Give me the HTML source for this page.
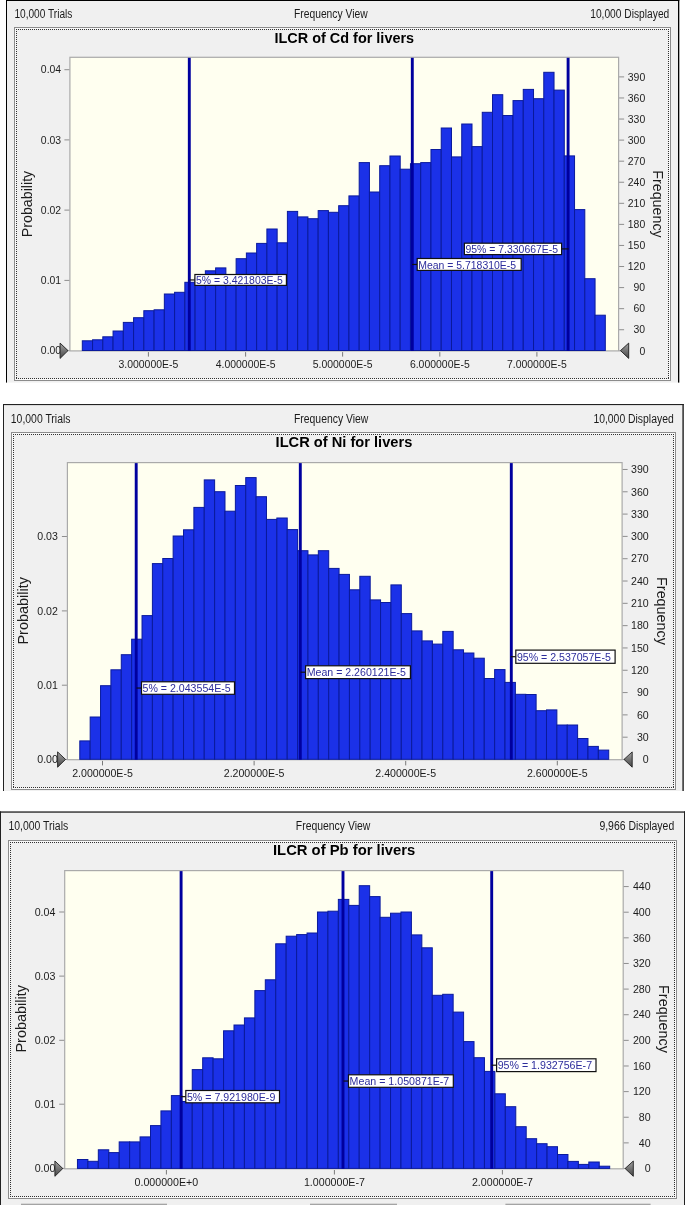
<!DOCTYPE html>
<html lang="en"><head><meta charset="utf-8"><title>ILCR frequency charts</title>
<style>
html,body{margin:0;padding:0;background:#fff;}
body{width:685px;height:1205px;overflow:hidden;position:relative;}
svg{display:block;position:absolute;left:0;top:0;}
text{font-family:"Liberation Sans", Arial, sans-serif;}
.s{fill:#1c1c1c;}
.t{font-weight:bold;fill:#000;}
.a{fill:#1c1c1c;}
.h{font-size:12px;fill:#1a1a1a;}
.l{fill:#2d2d9c;}
.bar{fill:#1b31e8;stroke:#0a1a9c;stroke-width:1;}
</style></head><body>
<svg width="685" height="1205" viewBox="0 0 685 1205">
<defs>
<linearGradient id="tg" x1="0" y1="0" x2="0" y2="1"><stop offset="0" stop-color="#a2a2a2"/><stop offset="1" stop-color="#454545"/></linearGradient>
</defs>
<rect x="0" y="0" width="685" height="1205" fill="#ffffff"/>
<g>
<rect x="6" y="0" width="673.3" height="382.6" fill="#f0f0f0"/>
<rect x="6" y="0" width="1" height="382.6" fill="#000"/>
<rect x="678" y="0" width="1.3" height="382.6" fill="#000"/>
<rect x="6" y="0" width="673.3" height="1" fill="#000"/>
<text class="h" x="14.4" y="18.4" textLength="58" lengthAdjust="spacingAndGlyphs">10,000 Trials</text>
<text class="h" x="294" y="17.9" textLength="73.6" lengthAdjust="spacingAndGlyphs">Frequency View</text>
<text class="h" x="590.2" y="18.2" textLength="79.1" lengthAdjust="spacingAndGlyphs">10,000 Displayed</text>
<rect x="14.5" y="27.5" width="656" height="353" fill="#f0f0f0" stroke="#8c8c8c" stroke-width="1"/>
<rect x="15.5" y="28.5" width="654" height="351" fill="none" stroke="#fafafa" stroke-width="1"/>
<g stroke="#303030" stroke-width="1" stroke-dasharray="1 1">
<line x1="16" y1="29.5" x2="669" y2="29.5"/>
<line x1="16" y1="378.5" x2="669" y2="378.5"/>
<line x1="16.5" y1="29" x2="16.5" y2="379"/>
<line x1="668.5" y1="29" x2="668.5" y2="379"/>
</g>
<text class="t" font-size="14.4" x="274.5" y="42.9" textLength="139.6" lengthAdjust="spacingAndGlyphs">ILCR of Cd for livers</text>
<rect x="69.9" y="57.3" width="548.7" height="293.6" fill="#fffff0" stroke="#aaaaaa" stroke-width="1.2"/>
<rect x="64.4" y="69.2" width="5" height="1" fill="#8e8e8e"/>
<text class="s" font-size="10.45" x="61.2" y="73.45" text-anchor="end">0.04</text>
<rect x="64.4" y="139.4" width="5" height="1" fill="#8e8e8e"/>
<text class="s" font-size="10.45" x="61.2" y="143.65" text-anchor="end">0.03</text>
<rect x="64.4" y="209.6" width="5" height="1" fill="#8e8e8e"/>
<text class="s" font-size="10.45" x="61.2" y="213.85" text-anchor="end">0.02</text>
<rect x="64.4" y="279.9" width="5" height="1" fill="#8e8e8e"/>
<text class="s" font-size="10.45" x="61.2" y="284.15" text-anchor="end">0.01</text>
<rect x="64.4" y="350.1" width="5" height="1" fill="#8e8e8e"/>
<text class="s" font-size="10.45" x="61.2" y="354.35" text-anchor="end">0.00</text>
<rect x="619.1" y="350.3" width="5" height="1" fill="#8e8e8e"/>
<text class="s" font-size="10.45" x="645.2" y="354.55" text-anchor="end">0</text>
<rect x="619.1" y="329.23" width="5" height="1" fill="#8e8e8e"/>
<text class="s" font-size="10.45" x="645.2" y="333.48" text-anchor="end">30</text>
<rect x="619.1" y="308.16" width="5" height="1" fill="#8e8e8e"/>
<text class="s" font-size="10.45" x="645.2" y="312.41" text-anchor="end">60</text>
<rect x="619.1" y="287.09" width="5" height="1" fill="#8e8e8e"/>
<text class="s" font-size="10.45" x="645.2" y="291.34" text-anchor="end">90</text>
<rect x="619.1" y="266.02" width="5" height="1" fill="#8e8e8e"/>
<text class="s" font-size="10.45" x="645.2" y="270.27" text-anchor="end">120</text>
<rect x="619.1" y="244.95" width="5" height="1" fill="#8e8e8e"/>
<text class="s" font-size="10.45" x="645.2" y="249.2" text-anchor="end">150</text>
<rect x="619.1" y="223.88" width="5" height="1" fill="#8e8e8e"/>
<text class="s" font-size="10.45" x="645.2" y="228.13" text-anchor="end">180</text>
<rect x="619.1" y="202.81" width="5" height="1" fill="#8e8e8e"/>
<text class="s" font-size="10.45" x="645.2" y="207.06" text-anchor="end">210</text>
<rect x="619.1" y="181.74" width="5" height="1" fill="#8e8e8e"/>
<text class="s" font-size="10.45" x="645.2" y="185.99" text-anchor="end">240</text>
<rect x="619.1" y="160.67" width="5" height="1" fill="#8e8e8e"/>
<text class="s" font-size="10.45" x="645.2" y="164.92" text-anchor="end">270</text>
<rect x="619.1" y="139.6" width="5" height="1" fill="#8e8e8e"/>
<text class="s" font-size="10.45" x="645.2" y="143.85" text-anchor="end">300</text>
<rect x="619.1" y="118.53" width="5" height="1" fill="#8e8e8e"/>
<text class="s" font-size="10.45" x="645.2" y="122.78" text-anchor="end">330</text>
<rect x="619.1" y="97.46" width="5" height="1" fill="#8e8e8e"/>
<text class="s" font-size="10.45" x="645.2" y="101.71" text-anchor="end">360</text>
<rect x="619.1" y="76.39" width="5" height="1" fill="#8e8e8e"/>
<text class="s" font-size="10.45" x="645.2" y="80.64" text-anchor="end">390</text>
<rect x="147.9" y="352.1" width="1" height="4.5" fill="#7a7a7a"/>
<text class="s" font-size="10.45" x="148.4" y="367.7" text-anchor="middle">3.000000E-5</text>
<rect x="245.1" y="352.1" width="1" height="4.5" fill="#7a7a7a"/>
<text class="s" font-size="10.45" x="245.6" y="367.7" text-anchor="middle">4.000000E-5</text>
<rect x="342.1" y="352.1" width="1" height="4.5" fill="#7a7a7a"/>
<text class="s" font-size="10.45" x="342.6" y="367.7" text-anchor="middle">5.000000E-5</text>
<rect x="439.3" y="352.1" width="1" height="4.5" fill="#7a7a7a"/>
<text class="s" font-size="10.45" x="439.8" y="367.7" text-anchor="middle">6.000000E-5</text>
<rect x="536.4" y="352.1" width="1" height="4.5" fill="#7a7a7a"/>
<text class="s" font-size="10.45" x="536.9" y="367.7" text-anchor="middle">7.000000E-5</text>
<text class="a" font-size="14.3" transform="translate(31.6 204) rotate(-90)" text-anchor="middle" textLength="66.5" lengthAdjust="spacingAndGlyphs">Probability</text>
<text class="a" font-size="14.3" transform="translate(652.6 204) rotate(90)" text-anchor="middle" textLength="67.5" lengthAdjust="spacingAndGlyphs">Frequency</text>
<g class="bar">
<rect x="82.3" y="340.8" width="10.26" height="9.7"/>
<rect x="92.55" y="339.8" width="10.26" height="10.7"/>
<rect x="102.81" y="336.8" width="10.26" height="13.7"/>
<rect x="113.06" y="331" width="10.26" height="19.5"/>
<rect x="123.32" y="322.4" width="10.26" height="28.1"/>
<rect x="133.57" y="317.7" width="10.26" height="32.8"/>
<rect x="143.83" y="310.7" width="10.26" height="39.8"/>
<rect x="154.09" y="309.8" width="10.26" height="40.7"/>
<rect x="164.34" y="294" width="10.26" height="56.5"/>
<rect x="174.59" y="292.3" width="10.26" height="58.2"/>
<rect x="184.85" y="282.3" width="10.26" height="68.2"/>
<rect x="195.11" y="278" width="10.26" height="72.5"/>
<rect x="205.36" y="270.8" width="10.26" height="79.7"/>
<rect x="215.62" y="267.9" width="10.26" height="82.6"/>
<rect x="225.87" y="276.5" width="10.26" height="74"/>
<rect x="236.12" y="258.7" width="10.26" height="91.8"/>
<rect x="246.38" y="253" width="10.26" height="97.5"/>
<rect x="256.63" y="243.4" width="10.26" height="107.1"/>
<rect x="266.89" y="229" width="10.26" height="121.5"/>
<rect x="277.15" y="242.8" width="10.26" height="107.7"/>
<rect x="287.4" y="211.4" width="10.26" height="139.1"/>
<rect x="297.66" y="216.9" width="10.26" height="133.6"/>
<rect x="307.91" y="218.7" width="10.26" height="131.8"/>
<rect x="318.17" y="210.6" width="10.26" height="139.9"/>
<rect x="328.42" y="212.3" width="10.26" height="138.2"/>
<rect x="338.68" y="205.7" width="10.26" height="144.8"/>
<rect x="348.93" y="195.9" width="10.26" height="154.6"/>
<rect x="359.19" y="162.6" width="10.26" height="187.9"/>
<rect x="369.44" y="192" width="10.26" height="158.5"/>
<rect x="379.7" y="165.7" width="10.26" height="184.8"/>
<rect x="389.95" y="156" width="10.26" height="194.5"/>
<rect x="400.21" y="169.2" width="10.26" height="181.3"/>
<rect x="410.46" y="163.7" width="10.26" height="186.8"/>
<rect x="420.72" y="162.6" width="10.26" height="187.9"/>
<rect x="430.97" y="149.5" width="10.26" height="201"/>
<rect x="441.23" y="128" width="10.26" height="222.5"/>
<rect x="451.48" y="156.9" width="10.26" height="193.6"/>
<rect x="461.74" y="124" width="10.26" height="226.5"/>
<rect x="471.99" y="146.6" width="10.26" height="203.9"/>
<rect x="482.25" y="112.3" width="10.26" height="238.2"/>
<rect x="492.5" y="94.7" width="10.26" height="255.8"/>
<rect x="502.76" y="115.5" width="10.26" height="235"/>
<rect x="513.01" y="100.6" width="10.26" height="249.9"/>
<rect x="523.26" y="89.4" width="10.26" height="261.1"/>
<rect x="533.52" y="98.7" width="10.26" height="251.8"/>
<rect x="543.77" y="72.3" width="10.26" height="278.2"/>
<rect x="554.03" y="90.1" width="10.26" height="260.4"/>
<rect x="564.28" y="155.9" width="10.26" height="194.6"/>
<rect x="574.54" y="209.6" width="10.26" height="140.9"/>
<rect x="584.8" y="278.7" width="10.26" height="71.8"/>
<rect x="595.05" y="315.2" width="10.26" height="35.3"/>
</g>
<rect x="187.85" y="57.8" width="2.9" height="293.1" fill="#00009e"/>
<rect x="410.85" y="57.8" width="2.9" height="293.1" fill="#00009e"/>
<rect x="566.65" y="57.8" width="2.9" height="293.1" fill="#00009e"/>
<rect x="189.8" y="279.35" width="5" height="1.2" fill="#111"/>
<rect x="194.9" y="274.5" width="91.5" height="10.9" fill="#ffffff" stroke="#111" stroke-width="1.2"/>
<text class="l" font-size="10.45" x="196" y="284.05">5% = 3.421803E-5</text>
<rect x="412.1" y="263.85" width="5" height="1.2" fill="#111"/>
<rect x="417.2" y="258.5" width="103.95" height="11.9" fill="#ffffff" stroke="#111" stroke-width="1.2"/>
<text class="l" font-size="10.45" x="418.3" y="268.55">Mean = 5.718310E-5</text>
<rect x="561.7" y="248.3" width="7" height="1.2" fill="#111"/>
<rect x="464.4" y="243.2" width="97.2" height="11.4" fill="#ffffff" stroke="#111" stroke-width="1.2"/>
<text class="l" font-size="10.45" x="465.5" y="253">95% = 7.330667E-5</text>
<path d="M60.1 343.1 L68 350.6 L60.1 358.4 Z" fill="url(#tg)" stroke="#1e1e1e" stroke-width="0.9" stroke-linejoin="round"/>
<path d="M628.7 343.1 L620.5 350.6 L628.7 358.4 Z" fill="url(#tg)" stroke="#1e1e1e" stroke-width="0.9" stroke-linejoin="round"/>
</g>
<g>
<rect x="3" y="404" width="680.8" height="387" fill="#f0f0f0"/>
<rect x="3" y="404" width="1" height="387" fill="#222"/>
<rect x="682.4" y="404" width="1.4" height="387" fill="#222"/>
<rect x="3" y="404" width="680.8" height="1.1" fill="#222"/>
<text class="h" x="10.8" y="422.8" textLength="59.7" lengthAdjust="spacingAndGlyphs">10,000 Trials</text>
<text class="h" x="294" y="422.7" textLength="74.3" lengthAdjust="spacingAndGlyphs">Frequency View</text>
<text class="h" x="593.4" y="422.8" textLength="80.3" lengthAdjust="spacingAndGlyphs">10,000 Displayed</text>
<rect x="11.5" y="432.5" width="664" height="357" fill="#f0f0f0" stroke="#8c8c8c" stroke-width="1"/>
<rect x="12.5" y="433.5" width="662" height="355" fill="none" stroke="#fafafa" stroke-width="1"/>
<g stroke="#303030" stroke-width="1" stroke-dasharray="1 1">
<line x1="13" y1="434.5" x2="674" y2="434.5"/>
<line x1="13" y1="787.5" x2="674" y2="787.5"/>
<line x1="13.5" y1="434" x2="13.5" y2="788"/>
<line x1="673.5" y1="434" x2="673.5" y2="788"/>
</g>
<text class="t" font-size="14.6" x="275.6" y="447.3" textLength="136.7" lengthAdjust="spacingAndGlyphs">ILCR of Ni for livers</text>
<rect x="67.4" y="462.6" width="554.7" height="297.1" fill="#fffff0" stroke="#aaaaaa" stroke-width="1.2"/>
<rect x="61.9" y="536" width="5" height="1" fill="#8e8e8e"/>
<text class="s" font-size="10.6" x="57.9" y="540.25" text-anchor="end">0.03</text>
<rect x="61.9" y="610.4" width="5" height="1" fill="#8e8e8e"/>
<text class="s" font-size="10.6" x="57.9" y="614.65" text-anchor="end">0.02</text>
<rect x="61.9" y="684.7" width="5" height="1" fill="#8e8e8e"/>
<text class="s" font-size="10.6" x="57.9" y="688.95" text-anchor="end">0.01</text>
<rect x="61.9" y="759" width="5" height="1" fill="#8e8e8e"/>
<text class="s" font-size="10.6" x="57.9" y="763.25" text-anchor="end">0.00</text>
<rect x="622.6" y="759" width="5" height="1" fill="#8e8e8e"/>
<text class="s" font-size="10.6" x="648.7" y="763.25" text-anchor="end">0</text>
<rect x="622.6" y="736.69" width="5" height="1" fill="#8e8e8e"/>
<text class="s" font-size="10.6" x="648.7" y="740.94" text-anchor="end">30</text>
<rect x="622.6" y="714.38" width="5" height="1" fill="#8e8e8e"/>
<text class="s" font-size="10.6" x="648.7" y="718.63" text-anchor="end">60</text>
<rect x="622.6" y="692.07" width="5" height="1" fill="#8e8e8e"/>
<text class="s" font-size="10.6" x="648.7" y="696.32" text-anchor="end">90</text>
<rect x="622.6" y="669.76" width="5" height="1" fill="#8e8e8e"/>
<text class="s" font-size="10.6" x="648.7" y="674.01" text-anchor="end">120</text>
<rect x="622.6" y="647.45" width="5" height="1" fill="#8e8e8e"/>
<text class="s" font-size="10.6" x="648.7" y="651.7" text-anchor="end">150</text>
<rect x="622.6" y="625.14" width="5" height="1" fill="#8e8e8e"/>
<text class="s" font-size="10.6" x="648.7" y="629.39" text-anchor="end">180</text>
<rect x="622.6" y="602.83" width="5" height="1" fill="#8e8e8e"/>
<text class="s" font-size="10.6" x="648.7" y="607.08" text-anchor="end">210</text>
<rect x="622.6" y="580.52" width="5" height="1" fill="#8e8e8e"/>
<text class="s" font-size="10.6" x="648.7" y="584.77" text-anchor="end">240</text>
<rect x="622.6" y="558.21" width="5" height="1" fill="#8e8e8e"/>
<text class="s" font-size="10.6" x="648.7" y="562.46" text-anchor="end">270</text>
<rect x="622.6" y="535.9" width="5" height="1" fill="#8e8e8e"/>
<text class="s" font-size="10.6" x="648.7" y="540.15" text-anchor="end">300</text>
<rect x="622.6" y="513.59" width="5" height="1" fill="#8e8e8e"/>
<text class="s" font-size="10.6" x="648.7" y="517.84" text-anchor="end">330</text>
<rect x="622.6" y="491.28" width="5" height="1" fill="#8e8e8e"/>
<text class="s" font-size="10.6" x="648.7" y="495.53" text-anchor="end">360</text>
<rect x="622.6" y="468.97" width="5" height="1" fill="#8e8e8e"/>
<text class="s" font-size="10.6" x="648.7" y="473.22" text-anchor="end">390</text>
<rect x="102" y="760.9" width="1" height="4.5" fill="#7a7a7a"/>
<text class="s" font-size="10.6" x="102.5" y="776.7" text-anchor="middle">2.000000E-5</text>
<rect x="253.6" y="760.9" width="1" height="4.5" fill="#7a7a7a"/>
<text class="s" font-size="10.6" x="254.1" y="776.7" text-anchor="middle">2.200000E-5</text>
<rect x="405.2" y="760.9" width="1" height="4.5" fill="#7a7a7a"/>
<text class="s" font-size="10.6" x="405.7" y="776.7" text-anchor="middle">2.400000E-5</text>
<rect x="556.8" y="760.9" width="1" height="4.5" fill="#7a7a7a"/>
<text class="s" font-size="10.6" x="557.3" y="776.7" text-anchor="middle">2.600000E-5</text>
<text class="a" font-size="14.4" transform="translate(28.4 610.8) rotate(-90)" text-anchor="middle" textLength="67.5" lengthAdjust="spacingAndGlyphs">Probability</text>
<text class="a" font-size="14.4" transform="translate(657 611) rotate(90)" text-anchor="middle" textLength="67.9" lengthAdjust="spacingAndGlyphs">Frequency</text>
<g class="bar">
<rect x="79.8" y="740.9" width="10.37" height="18.4"/>
<rect x="90.17" y="717" width="10.37" height="42.3"/>
<rect x="100.54" y="685.7" width="10.37" height="73.6"/>
<rect x="110.91" y="669.8" width="10.37" height="89.5"/>
<rect x="121.28" y="654.7" width="10.37" height="104.6"/>
<rect x="131.66" y="639.2" width="10.37" height="120.1"/>
<rect x="142.03" y="615.6" width="10.37" height="143.7"/>
<rect x="152.4" y="563.6" width="10.37" height="195.7"/>
<rect x="162.77" y="558.5" width="10.37" height="200.8"/>
<rect x="173.14" y="536" width="10.37" height="223.3"/>
<rect x="183.51" y="529.8" width="10.37" height="229.5"/>
<rect x="193.88" y="507.4" width="10.37" height="251.9"/>
<rect x="204.25" y="479.9" width="10.37" height="279.4"/>
<rect x="214.62" y="491.7" width="10.37" height="267.6"/>
<rect x="224.99" y="511.2" width="10.37" height="248.1"/>
<rect x="235.37" y="485.5" width="10.37" height="273.8"/>
<rect x="245.74" y="477.6" width="10.37" height="281.7"/>
<rect x="256.11" y="496.7" width="10.37" height="262.6"/>
<rect x="266.48" y="519.4" width="10.37" height="239.9"/>
<rect x="276.85" y="518" width="10.37" height="241.3"/>
<rect x="287.22" y="529.6" width="10.37" height="229.7"/>
<rect x="297.59" y="550.7" width="10.37" height="208.6"/>
<rect x="307.96" y="554.9" width="10.37" height="204.4"/>
<rect x="318.33" y="550.7" width="10.37" height="208.6"/>
<rect x="328.7" y="568.4" width="10.37" height="190.9"/>
<rect x="339.08" y="574.4" width="10.37" height="184.9"/>
<rect x="349.45" y="589.8" width="10.37" height="169.5"/>
<rect x="359.82" y="576.3" width="10.37" height="183"/>
<rect x="370.19" y="599.9" width="10.37" height="159.4"/>
<rect x="380.56" y="602.5" width="10.37" height="156.8"/>
<rect x="390.93" y="584.9" width="10.37" height="174.4"/>
<rect x="401.3" y="613.6" width="10.37" height="145.7"/>
<rect x="411.67" y="630.9" width="10.37" height="128.4"/>
<rect x="422.04" y="640.9" width="10.37" height="118.4"/>
<rect x="432.41" y="644.1" width="10.37" height="115.2"/>
<rect x="442.79" y="631.4" width="10.37" height="127.9"/>
<rect x="453.16" y="649.8" width="10.37" height="109.5"/>
<rect x="463.53" y="653" width="10.37" height="106.3"/>
<rect x="473.9" y="658.2" width="10.37" height="101.1"/>
<rect x="484.27" y="678.5" width="10.37" height="80.8"/>
<rect x="494.64" y="669.6" width="10.37" height="89.7"/>
<rect x="505.01" y="682.4" width="10.37" height="76.9"/>
<rect x="515.38" y="694.3" width="10.37" height="65"/>
<rect x="525.75" y="694.5" width="10.37" height="64.8"/>
<rect x="536.12" y="710.7" width="10.37" height="48.6"/>
<rect x="546.5" y="709.9" width="10.37" height="49.4"/>
<rect x="556.87" y="725" width="10.37" height="34.3"/>
<rect x="567.24" y="725" width="10.37" height="34.3"/>
<rect x="577.61" y="738.5" width="10.37" height="20.8"/>
<rect x="587.98" y="746.4" width="10.37" height="12.9"/>
<rect x="598.35" y="750.1" width="10.37" height="9.2"/>
</g>
<rect x="134.75" y="463.1" width="2.9" height="296.6" fill="#00009e"/>
<rect x="298.85" y="463.1" width="2.9" height="296.6" fill="#00009e"/>
<rect x="509.85" y="463.1" width="2.9" height="296.6" fill="#00009e"/>
<rect x="136.4" y="687.45" width="5" height="1.2" fill="#111"/>
<rect x="141.5" y="681.8" width="93" height="12.5" fill="#ffffff" stroke="#111" stroke-width="1.2"/>
<text class="l" font-size="10.6" x="142.6" y="692.15">5% = 2.043554E-5</text>
<rect x="300.5" y="671.6" width="5" height="1.2" fill="#111"/>
<rect x="305.6" y="665.8" width="104.8" height="12.8" fill="#ffffff" stroke="#111" stroke-width="1.2"/>
<text class="l" font-size="10.6" x="306.7" y="676.3">Mean = 2.260121E-5</text>
<rect x="510.7" y="656.1" width="5" height="1.2" fill="#111"/>
<rect x="515.8" y="650.1" width="99.3" height="13.2" fill="#ffffff" stroke="#111" stroke-width="1.2"/>
<text class="l" font-size="10.6" x="516.9" y="660.8">95% = 2.537057E-5</text>
<path d="M57.6 751.9 L65.5 759.4 L57.6 767.2 Z" fill="url(#tg)" stroke="#1e1e1e" stroke-width="0.9" stroke-linejoin="round"/>
<path d="M632.2 751.9 L624 759.4 L632.2 767.2 Z" fill="url(#tg)" stroke="#1e1e1e" stroke-width="0.9" stroke-linejoin="round"/>
</g>
<g>
<rect x="0" y="811.4" width="685" height="393.6" fill="#f0f0f0"/>
<rect x="0" y="811.4" width="1" height="393.6" fill="#222"/>
<rect x="684" y="811.4" width="1" height="393.6" fill="#222"/>
<rect x="0" y="811.4" width="685" height="1.3" fill="#222"/>
<text class="h" x="8.4" y="830.1" textLength="59.8" lengthAdjust="spacingAndGlyphs">10,000 Trials</text>
<text class="h" x="295.8" y="829.8" textLength="74.5" lengthAdjust="spacingAndGlyphs">Frequency View</text>
<text class="h" x="599.4" y="830.1" textLength="74.8" lengthAdjust="spacingAndGlyphs">9,966 Displayed</text>
<rect x="8.5" y="840.5" width="668" height="358" fill="#f0f0f0" stroke="#8c8c8c" stroke-width="1"/>
<rect x="9.5" y="841.5" width="666" height="356" fill="none" stroke="#fafafa" stroke-width="1"/>
<g stroke="#303030" stroke-width="1" stroke-dasharray="1 1">
<line x1="10" y1="842.5" x2="675" y2="842.5"/>
<line x1="10" y1="1196.5" x2="675" y2="1196.5"/>
<line x1="10.5" y1="842" x2="10.5" y2="1197"/>
<line x1="674.5" y1="842" x2="674.5" y2="1197"/>
</g>
<text class="t" font-size="14.8" x="273" y="854.9" textLength="142.2" lengthAdjust="spacingAndGlyphs">ILCR of Pb for livers</text>
<rect x="64.7" y="870.6" width="558.5" height="298.2" fill="#fffff0" stroke="#aaaaaa" stroke-width="1.2"/>
<rect x="59.2" y="911.5" width="5" height="1" fill="#8e8e8e"/>
<text class="s" font-size="10.65" x="55.4" y="915.75" text-anchor="end">0.04</text>
<rect x="59.2" y="975.6" width="5" height="1" fill="#8e8e8e"/>
<text class="s" font-size="10.65" x="55.4" y="979.85" text-anchor="end">0.03</text>
<rect x="59.2" y="1039.8" width="5" height="1" fill="#8e8e8e"/>
<text class="s" font-size="10.65" x="55.4" y="1044.05" text-anchor="end">0.02</text>
<rect x="59.2" y="1103.7" width="5" height="1" fill="#8e8e8e"/>
<text class="s" font-size="10.65" x="55.4" y="1107.95" text-anchor="end">0.01</text>
<rect x="59.2" y="1167.9" width="5" height="1" fill="#8e8e8e"/>
<text class="s" font-size="10.65" x="55.4" y="1172.15" text-anchor="end">0.00</text>
<rect x="623.7" y="1168" width="5" height="1" fill="#8e8e8e"/>
<text class="s" font-size="10.65" x="650.7" y="1172.25" text-anchor="end">0</text>
<rect x="623.7" y="1142.37" width="5" height="1" fill="#8e8e8e"/>
<text class="s" font-size="10.65" x="650.7" y="1146.62" text-anchor="end">40</text>
<rect x="623.7" y="1116.74" width="5" height="1" fill="#8e8e8e"/>
<text class="s" font-size="10.65" x="650.7" y="1120.99" text-anchor="end">80</text>
<rect x="623.7" y="1091.11" width="5" height="1" fill="#8e8e8e"/>
<text class="s" font-size="10.65" x="650.7" y="1095.36" text-anchor="end">120</text>
<rect x="623.7" y="1065.48" width="5" height="1" fill="#8e8e8e"/>
<text class="s" font-size="10.65" x="650.7" y="1069.73" text-anchor="end">160</text>
<rect x="623.7" y="1039.85" width="5" height="1" fill="#8e8e8e"/>
<text class="s" font-size="10.65" x="650.7" y="1044.1" text-anchor="end">200</text>
<rect x="623.7" y="1014.22" width="5" height="1" fill="#8e8e8e"/>
<text class="s" font-size="10.65" x="650.7" y="1018.47" text-anchor="end">240</text>
<rect x="623.7" y="988.59" width="5" height="1" fill="#8e8e8e"/>
<text class="s" font-size="10.65" x="650.7" y="992.84" text-anchor="end">280</text>
<rect x="623.7" y="962.96" width="5" height="1" fill="#8e8e8e"/>
<text class="s" font-size="10.65" x="650.7" y="967.21" text-anchor="end">320</text>
<rect x="623.7" y="937.33" width="5" height="1" fill="#8e8e8e"/>
<text class="s" font-size="10.65" x="650.7" y="941.58" text-anchor="end">360</text>
<rect x="623.7" y="911.7" width="5" height="1" fill="#8e8e8e"/>
<text class="s" font-size="10.65" x="650.7" y="915.95" text-anchor="end">400</text>
<rect x="623.7" y="886.07" width="5" height="1" fill="#8e8e8e"/>
<text class="s" font-size="10.65" x="650.7" y="890.32" text-anchor="end">440</text>
<rect x="165.9" y="1170" width="1" height="4.5" fill="#7a7a7a"/>
<text class="s" font-size="10.65" x="166.4" y="1185.8" text-anchor="middle">0.000000E+0</text>
<rect x="333.9" y="1170" width="1" height="4.5" fill="#7a7a7a"/>
<text class="s" font-size="10.65" x="334.4" y="1185.8" text-anchor="middle">1.000000E-7</text>
<rect x="501.9" y="1170" width="1" height="4.5" fill="#7a7a7a"/>
<text class="s" font-size="10.65" x="502.4" y="1185.8" text-anchor="middle">2.000000E-7</text>
<text class="a" font-size="14.4" transform="translate(26 1018.8) rotate(-90)" text-anchor="middle" textLength="67.6" lengthAdjust="spacingAndGlyphs">Probability</text>
<text class="a" font-size="14.4" transform="translate(658.6 1019) rotate(90)" text-anchor="middle" textLength="67.8" lengthAdjust="spacingAndGlyphs">Frequency</text>
<g class="bar">
<rect x="77.45" y="1159.5" width="10.44" height="8.9"/>
<rect x="87.89" y="1161.3" width="10.44" height="7.1"/>
<rect x="98.32" y="1149.8" width="10.44" height="18.6"/>
<rect x="108.76" y="1152.6" width="10.44" height="15.8"/>
<rect x="119.19" y="1141.9" width="10.44" height="26.5"/>
<rect x="129.63" y="1141.9" width="10.44" height="26.5"/>
<rect x="140.07" y="1136.9" width="10.44" height="31.5"/>
<rect x="150.5" y="1125.6" width="10.44" height="42.8"/>
<rect x="160.94" y="1110.9" width="10.44" height="57.5"/>
<rect x="171.37" y="1095.6" width="10.44" height="72.8"/>
<rect x="181.81" y="1101.5" width="10.44" height="66.9"/>
<rect x="192.25" y="1069.6" width="10.44" height="98.8"/>
<rect x="202.68" y="1057.8" width="10.44" height="110.6"/>
<rect x="213.12" y="1058.8" width="10.44" height="109.6"/>
<rect x="223.55" y="1030.8" width="10.44" height="137.6"/>
<rect x="233.99" y="1025" width="10.44" height="143.4"/>
<rect x="244.43" y="1017.9" width="10.44" height="150.5"/>
<rect x="254.86" y="990.6" width="10.44" height="177.8"/>
<rect x="265.3" y="979.8" width="10.44" height="188.6"/>
<rect x="275.73" y="943.8" width="10.44" height="224.6"/>
<rect x="286.17" y="936.2" width="10.44" height="232.2"/>
<rect x="296.61" y="934.6" width="10.44" height="233.8"/>
<rect x="307.04" y="933" width="10.44" height="235.4"/>
<rect x="317.48" y="912" width="10.44" height="256.4"/>
<rect x="327.91" y="911.2" width="10.44" height="257.2"/>
<rect x="338.35" y="899.4" width="10.44" height="269"/>
<rect x="348.79" y="905.4" width="10.44" height="263"/>
<rect x="359.22" y="885.7" width="10.44" height="282.7"/>
<rect x="369.66" y="896.6" width="10.44" height="271.8"/>
<rect x="380.09" y="917.3" width="10.44" height="251.1"/>
<rect x="390.53" y="913.2" width="10.44" height="255.2"/>
<rect x="400.97" y="912" width="10.44" height="256.4"/>
<rect x="411.4" y="934.9" width="10.44" height="233.5"/>
<rect x="421.84" y="947.8" width="10.44" height="220.6"/>
<rect x="432.27" y="995.3" width="10.44" height="173.1"/>
<rect x="442.71" y="994.3" width="10.44" height="174.1"/>
<rect x="453.15" y="1012.1" width="10.44" height="156.3"/>
<rect x="463.58" y="1041.6" width="10.44" height="126.8"/>
<rect x="474.02" y="1057.7" width="10.44" height="110.7"/>
<rect x="484.45" y="1071.4" width="10.44" height="97"/>
<rect x="494.89" y="1093.8" width="10.44" height="74.6"/>
<rect x="505.33" y="1106.7" width="10.44" height="61.7"/>
<rect x="515.76" y="1126.7" width="10.44" height="41.7"/>
<rect x="526.2" y="1138.7" width="10.44" height="29.7"/>
<rect x="536.63" y="1143.7" width="10.44" height="24.7"/>
<rect x="547.07" y="1146.7" width="10.44" height="21.7"/>
<rect x="557.51" y="1154.5" width="10.44" height="13.9"/>
<rect x="567.94" y="1161.4" width="10.44" height="7"/>
<rect x="578.38" y="1164.4" width="10.44" height="4"/>
<rect x="588.81" y="1162" width="10.44" height="6.4"/>
<rect x="599.25" y="1166.2" width="10.44" height="2.2"/>
</g>
<rect x="179.65" y="871.1" width="2.9" height="297.7" fill="#00009e"/>
<rect x="341.55" y="871.1" width="2.9" height="297.7" fill="#00009e"/>
<rect x="490.25" y="871.1" width="2.9" height="297.7" fill="#00009e"/>
<rect x="180.7" y="1096.05" width="5" height="1.2" fill="#111"/>
<rect x="185.8" y="1090.5" width="93.7" height="12.3" fill="#ffffff" stroke="#111" stroke-width="1.2"/>
<text class="l" font-size="10.65" x="186.9" y="1100.75">5% = 7.921980E-9</text>
<rect x="343.4" y="1080.45" width="5" height="1.2" fill="#111"/>
<rect x="348.5" y="1074.8" width="104.8" height="12.5" fill="#ffffff" stroke="#111" stroke-width="1.2"/>
<text class="l" font-size="10.65" x="349.6" y="1085.15">Mean = 1.050871E-7</text>
<rect x="491.5" y="1064.6" width="5" height="1.2" fill="#111"/>
<rect x="496.6" y="1058.8" width="99.4" height="12.8" fill="#ffffff" stroke="#111" stroke-width="1.2"/>
<text class="l" font-size="10.65" x="497.7" y="1069.3">95% = 1.932756E-7</text>
<path d="M54.9 1161 L62.8 1168.5 L54.9 1176.3 Z" fill="url(#tg)" stroke="#1e1e1e" stroke-width="0.9" stroke-linejoin="round"/>
<path d="M633.3 1161 L625.1 1168.5 L633.3 1176.3 Z" fill="url(#tg)" stroke="#1e1e1e" stroke-width="0.9" stroke-linejoin="round"/>
<rect x="21" y="1203.7" width="146" height="1.3" fill="#a4a4a4"/>
<rect x="310" y="1203.7" width="87" height="1.3" fill="#a4a4a4"/>
<rect x="505.4" y="1203.7" width="145.2" height="1.3" fill="#a4a4a4"/>
</g>
</svg>
</body></html>
